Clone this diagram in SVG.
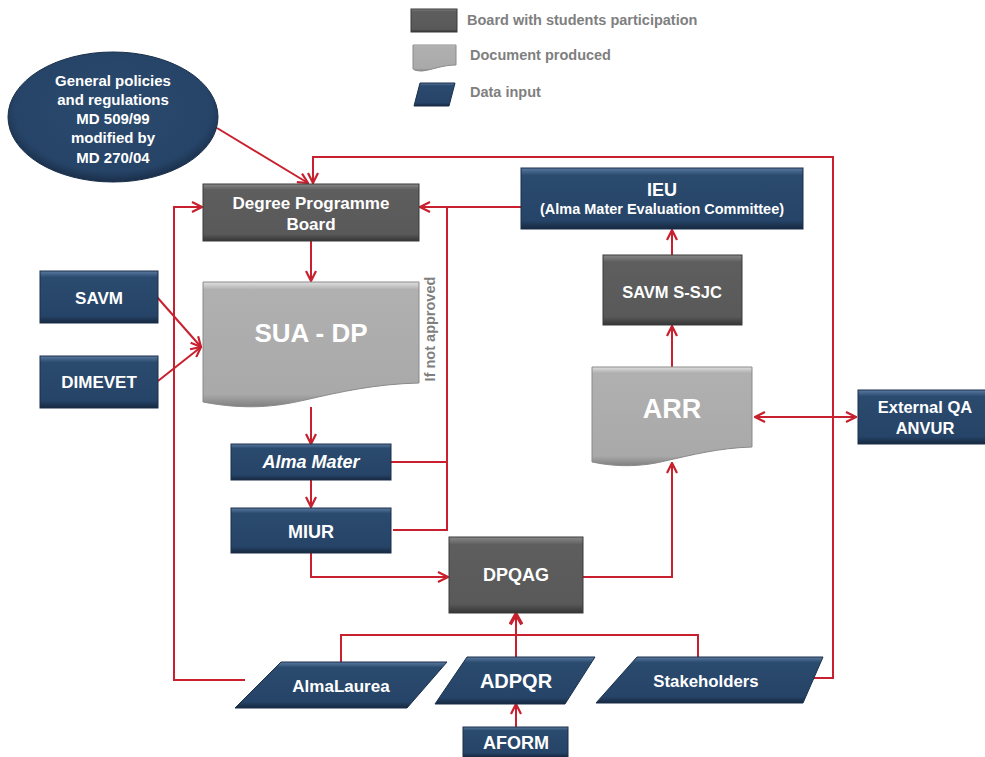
<svg xmlns="http://www.w3.org/2000/svg" width="985" height="757" viewBox="0 0 985 757">
<defs>
<linearGradient id="gDark" x1="0" y1="0" x2="0" y2="1">
<stop offset="0" stop-color="#8a8a8a"/><stop offset="0.1" stop-color="#5e5e5e"/><stop offset="0.88" stop-color="#595959"/><stop offset="1" stop-color="#353535"/>
</linearGradient>
<linearGradient id="gNavy" x1="0" y1="0" x2="0" y2="1">
<stop offset="0" stop-color="#5b7aa0"/><stop offset="0.12" stop-color="#2a4a6e"/><stop offset="0.86" stop-color="#264468"/><stop offset="1" stop-color="#16283f"/>
</linearGradient>
<linearGradient id="gDoc" x1="0" y1="0" x2="0" y2="1">
<stop offset="0" stop-color="#e0e0e0"/><stop offset="0.06" stop-color="#b0b0b0"/><stop offset="0.9" stop-color="#a9a9a9"/><stop offset="1" stop-color="#808080"/>
</linearGradient>
<radialGradient id="gEll" cx="0.5" cy="0.45" r="0.55">
<stop offset="0" stop-color="#2a4a6e"/><stop offset="0.85" stop-color="#264468"/><stop offset="1" stop-color="#1a2f4a"/>
</radialGradient>
<marker id="arr" viewBox="0 0 12 12" refX="11" refY="6" markerWidth="12" markerHeight="12" markerUnits="userSpaceOnUse" orient="auto-start-reverse">
<path d="M1,1 L11,6 L1,11" fill="none" stroke="#c8202e" stroke-width="2.2"/>
</marker>
<marker id="arrT" viewBox="0 0 12 12" refX="10" refY="6" markerWidth="14" markerHeight="14" markerUnits="userSpaceOnUse" orient="auto">
<path d="M1,1 L10,6 L1,11" fill="none" stroke="#c8202e" stroke-width="3"/>
</marker>
<style>
.dark{fill:url(#gDark);stroke:#3a3a3a;stroke-width:1}
.navy{fill:url(#gNavy);stroke:#1a2f4a;stroke-width:1}
.doc{fill:url(#gDoc);stroke:#8a8a8a;stroke-width:1}
.t{font-family:"Liberation Sans",Arial,sans-serif;font-weight:bold;fill:#ffffff;text-anchor:middle;dominant-baseline:central}
.lg{font-family:"Liberation Sans",Arial,sans-serif;font-weight:bold;fill:#7f7f7f;font-size:14.5px;dominant-baseline:central}
.c{fill:none;stroke:#c8202e;stroke-width:2}
</style>
</defs>
<rect width="985" height="757" fill="#ffffff"/>

<g id="legend">
<rect x="411" y="9" width="46" height="23" class="dark"/>
<text x="467" y="20" class="lg">Board with students participation</text>
<path d="M413,45 H456 V65 C442,65 432,70 422,71 C417,71 414,70 413,69 Z" class="doc"/>
<text x="470" y="55" class="lg">Document produced</text>
<polygon points="420,83 455,83 449,106 414,106" class="navy"/>
<text x="470" y="92" class="lg">Data input</text>
</g>

<g id="connectors">
<line x1="217" y1="128" x2="308" y2="183" class="c" marker-end="url(#arr)"/>
<polyline points="800,678 833,678 833,157 313,157 313,183" class="c" marker-end="url(#arr)"/>
<polyline points="245,680 174,680 174,207 202,207" class="c" marker-end="url(#arr)"/>
<line x1="521" y1="207" x2="420" y2="207" class="c" marker-end="url(#arr)"/>
<polyline points="391,462 447,462 447,207" class="c"/>
<polyline points="393,530 447,530 447,462" class="c"/>
<line x1="311" y1="241" x2="311" y2="281" class="c" marker-end="url(#arr)"/>
<line x1="157" y1="297" x2="201" y2="347" class="c" marker-end="url(#arr)"/>
<line x1="158" y1="381" x2="201" y2="347" class="c" marker-end="url(#arr)"/>
<line x1="311" y1="407" x2="311" y2="444" class="c" marker-end="url(#arr)"/>
<line x1="311" y1="480" x2="311" y2="507" class="c" marker-end="url(#arr)"/>
<polyline points="311,553 311,577 448,577" class="c" marker-end="url(#arr)"/>
<polyline points="583,577 672,577 672,463" class="c" marker-end="url(#arr)"/>
<line x1="672" y1="367" x2="672" y2="326" class="c" marker-end="url(#arr)"/>
<line x1="672" y1="255" x2="672" y2="230" class="c" marker-end="url(#arr)"/>
<line x1="755" y1="417" x2="856" y2="417" class="c" marker-start="url(#arr)" marker-end="url(#arr)"/>
<polyline points="341,662 341,635 516,635" class="c"/>
<polyline points="516,635 698,635 698,657" class="c" stroke-width="3"/>
<line x1="516" y1="657" x2="516" y2="614" class="c" stroke-width="3.5" marker-end="url(#arrT)"/>
<line x1="516" y1="727" x2="516" y2="704" class="c" marker-end="url(#arr)"/>
</g>

<g id="policies">
<ellipse cx="113" cy="117" rx="105" ry="65" fill="url(#gEll)" stroke="#1a2f4a" stroke-width="1"/>
<text class="t" font-size="15"><tspan x="113" y="80">General policies</tspan><tspan x="113" y="99">and regulations</tspan><tspan x="113" y="118">MD 509/99</tspan><tspan x="113" y="137">modified by</tspan><tspan x="113" y="157">MD 270/04</tspan></text>
</g>

<g id="dpb">
<rect x="203" y="184" width="216" height="57" class="dark"/>
<text class="t" font-size="17"><tspan x="311" y="203">Degree Programme</tspan><tspan x="311" y="224">Board</tspan></text>
</g>

<g id="savm">
<rect x="40" y="271" width="118" height="52" class="navy"/>
<text x="99" y="298" class="t" font-size="17">SAVM</text>
</g>

<g id="dimevet">
<rect x="40" y="356" width="118" height="52" class="navy"/>
<text x="99" y="382" class="t" font-size="17">DIMEVET</text>
</g>

<g id="suadp">
<path d="M203,282 H419 V383 C375,384 340,392 305,400 C275,407 245,410 203,402 Z" class="doc"/>
<text x="311" y="333" class="t" font-size="26">SUA - DP</text>
</g>

<g id="notapproved">
<text x="430" y="329" class="lg" font-size="20" text-anchor="middle" transform="rotate(-90 430 329)">If not approved</text>
</g>

<g id="almamater">
<rect x="231" y="444" width="160" height="36" class="navy"/>
<text x="311" y="462" class="t" font-size="18" font-style="italic">Alma Mater</text>
</g>

<g id="miur">
<rect x="231" y="508" width="160" height="45" class="navy"/>
<text x="311" y="532" class="t" font-size="18">MIUR</text>
</g>

<g id="dpqag">
<rect x="449" y="537" width="134" height="76" class="dark" stroke="#8a2a2e"/>
<text x="516" y="575" class="t" font-size="18">DPQAG</text>
</g>

<g id="arr-doc">
<path d="M592,367 H752 V447 C718,448 692,455 665,461 C645,466 620,468 592,462 Z" class="doc"/>
<text x="672" y="409" class="t" font-size="27">ARR</text>
</g>

<g id="savmssjc">
<rect x="603" y="255" width="139" height="70" class="dark"/>
<text x="672" y="292" class="t" font-size="16.5">SAVM S-SJC</text>
</g>

<g id="ieu">
<rect x="521" y="168" width="282" height="61" class="navy"/>
<text class="t"><tspan x="662" y="190" font-size="18">IEU</tspan><tspan x="662" y="209" font-size="14.5">(Alma Mater Evaluation Committee)</tspan></text>
</g>

<g id="anvur">
<rect x="858" y="390" width="132" height="54" class="navy"/>
<text class="t" font-size="16.5"><tspan x="925" y="407">External QA</tspan><tspan x="925" y="428">ANVUR</tspan></text>
</g>

<g id="almalaurea">
<polygon points="281,662 447,662 407,708 235,708" class="navy"/>
<text x="341" y="686" class="t" font-size="17">AlmaLaurea</text>
</g>

<g id="adpqr">
<polygon points="467,657 595,657 565,704 435,704" class="navy"/>
<text x="516" y="681" class="t" font-size="20">ADPQR</text>
</g>

<g id="stakeholders">
<polygon points="637,657 823,657 803,703 596,703" class="navy"/>
<text x="706" y="681" class="t" font-size="16.8">Stakeholders</text>
</g>

<g id="aform">
<rect x="463" y="727" width="105" height="30" class="navy"/>
<text x="516" y="743" class="t" font-size="18">AFORM</text>
</g>
</svg>
